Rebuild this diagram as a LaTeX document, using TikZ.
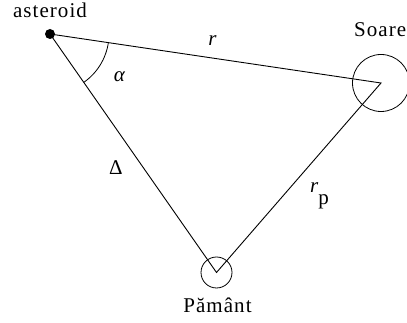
\documentclass[tikz,border=0pt]{standalone}
\usepackage{fontspec}
\setmainfont{Liberation Serif}[LetterSpace=5]
\usetikzlibrary{positioning}

\tikzset{
  lbl/.style={font=\fontsize{21}{24}\selectfont, inner sep=0pt},
  side/.style={line width=0.9pt},
}

\begin{document}
\begin{tikzpicture}[x=1pt,y=1pt]
  \useasboundingbox (0,0) rectangle (407,323);

  \coordinate (ast) at (50,289);
  \coordinate (sun) at (381,240);
  \coordinate (earth) at (216.5,50.5);

  \draw[line width=0.8pt] (sun) circle (28.5);
  \draw[line width=0.8pt] (earth) circle (15.5);
  \draw[side] (ast) -- (sun) -- (earth) -- (ast);
  \fill (ast) circle (5);
  \draw[line width=0.8pt] (ast) ++(-8.4:59) arc (-8.4:-55.1:59);

  \node[lbl, anchor=base] (astname) at (50,305) {asteroid};
  \node[lbl, anchor=base west] (sunname) at (354,286) {Soare};
  \node[lbl, anchor=base] (earthname) at (217.5,10) {Pământ};
  \node[lbl] (rlbl) at (213,282) {\textit{r}};
  \node[lbl] (alpha) at (120,246) {\textit{α}};
  \node[lbl] (delta) at (116,155) {Δ};
  \node[lbl, anchor=base west] (rplbl) at (310,130) {\textit{r}\kern-1pt\raisebox{-12pt}{p}};
\end{tikzpicture}
\end{document}
